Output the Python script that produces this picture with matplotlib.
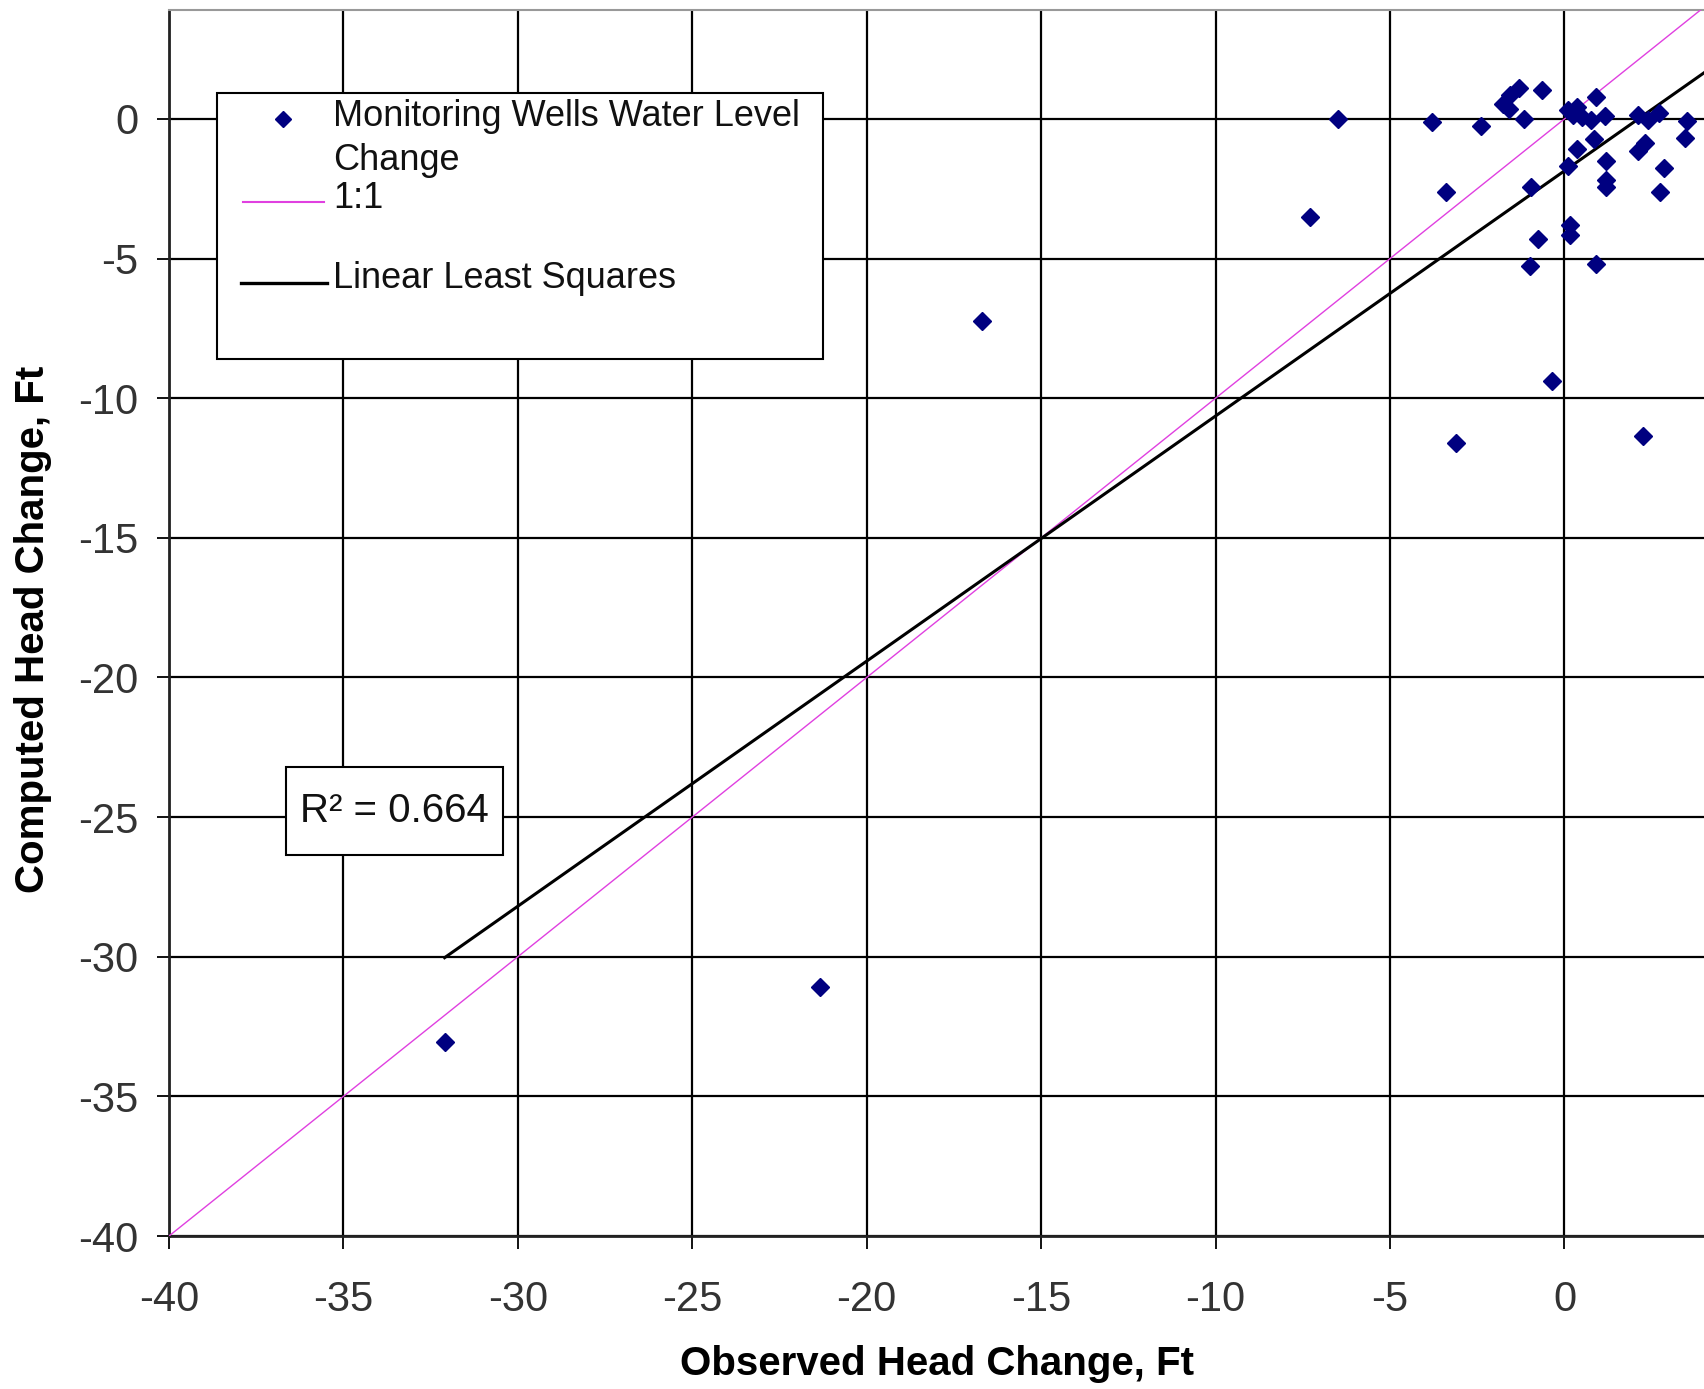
import numpy as np
import matplotlib
matplotlib.use('Agg')
import matplotlib.pyplot as plt
from matplotlib.patches import Rectangle

plt.rcParams['font.family'] = ['Liberation Sans', 'DejaVu Sans']
plt.rcParams['axes.unicode_minus'] = False

# observed vs computed head change (ft)
observed = [-32.1, -21.35, -16.7, -7.3, -6.5, -3.8, -3.4, -3.1, -2.4,
            -1.75, -1.55, -1.3, -1.6, -1.15, -1.0, -0.95, -0.75, -0.65, -0.35,
            0.1, 0.35, 0.25, 0.5, 0.75, 1.15, 0.9, 0.1, 0.35, 0.85,
            0.15, 0.15, 0.9, 1.2, 1.2, 1.2, 2.1, 2.4, 2.7, 2.1, 2.3,
            2.85, 2.75, 3.5, 3.45, 2.25]
computed = [-33.05, -31.1, -7.25, -3.5, 0.0, -0.12, -2.6, -11.6, -0.25,
            0.55, 0.85, 1.1, 0.35, -0.02, -5.25, -2.45, -4.3, 1.05, -9.4,
            0.32, 0.42, 0.15, 0.08, -0.03, 0.1, 0.8, -1.7, -1.08, -0.72,
            -3.8, -4.15, -5.2, -1.5, -2.2, -2.45, 0.15, -0.05, 0.2, -1.15, -0.85,
            -1.75, -2.6, -0.08, -0.68, -11.35]

fit_slope = 0.8777
fit_intercept = -1.86
r_squared = 0.664
ticks = np.arange(-40, 1, 5)

navy = '#000080'
W, H = 1704, 1389
fig = plt.figure(figsize=(W / 100, H / 100), dpi=100)
ax = fig.add_axes([169 / W, 1 - 1236 / H, 1535 / W, 1226 / H])
ax.set_xlim(-40, 4)
ax.set_ylim(-40, 3.9)
ax.set_xticks(ticks)
ax.set_yticks(ticks)
ax.grid(True, color='black', lw=1.6)
ax.set_axisbelow(True)

lim = np.array(ax.get_xlim())
ax.plot(lim, lim, color='#e040e0', lw=1.0, zorder=3)
xfit = np.array([min(observed), lim[1] + 0.5])
ax.plot(xfit, fit_slope * xfit + fit_intercept, color='black', lw=2.2, zorder=3)
ax.plot(observed, computed, 'D', ms=9, color=navy, mec=navy, zorder=4)

for s in ['left', 'bottom']:
    ax.spines[s].set_color('#222222')
    ax.spines[s].set_linewidth(2.0)
ax.spines['top'].set_color('#999999')
ax.spines['top'].set_linewidth(1.5)
ax.spines['right'].set_visible(False)

ax.tick_params(direction='out', length=9, width=1.3, color='black',
               labelsize=30, labelcolor='#333333')
ax.tick_params(axis='x', pad=23)
ax.tick_params(axis='y', pad=13)

ax.set_xlabel('Observed Head Change, Ft', fontsize=29, fontweight='bold', va='center')
ax.set_ylabel('Computed Head Change, Ft', fontsize=29, fontweight='bold', va='center')
ax.xaxis.set_label_coords(0.5, (1236 - 1364) / 1226)
ax.yaxis.set_label_coords((33 - 169) / 1535, 0.495)


def afrac(px, py):
    return (px - 169) / 1535, (1236 - py) / 1226


# legend box
x0, y0 = afrac(217, 359)
ax.add_patch(Rectangle((x0, y0), (823 - 217) / 1535, (359 - 93) / 1226,
                       transform=ax.transAxes, fc='white', ec='black', lw=1.5, zorder=6))
mx, my = afrac(283, 119)
ax.plot([mx], [my], 'D', ms=8, color=navy, transform=ax.transAxes, zorder=7, clip_on=False)
lx0, ly = afrac(243, 201.5)
lx1, _ = afrac(324, 201.5)
ax.plot([lx0, lx1], [ly, ly], color='#e040e0', lw=1.5, transform=ax.transAxes, zorder=7)
lx0, ly = afrac(241, 282.5)
lx1, _ = afrac(327, 282.5)
ax.plot([lx0, lx1], [ly, ly], color='black', lw=2.4, transform=ax.transAxes, zorder=7)
for label, py in [('Monitoring Wells Water Level', 116.5), ('Change', 160),
                  ('1:1', 199), ('Linear Least Squares', 278.5)]:
    tx, ty = afrac(333, py)
    ax.text(tx, ty, label, transform=ax.transAxes, fontsize=26, ha='left', va='center',
            color='#111111', zorder=8)

# R-squared box
bx, by = afrac(286, 855)
ax.add_patch(Rectangle((bx, by), 217 / 1535, 88 / 1226, transform=ax.transAxes,
                       fc='white', ec='black', lw=1.5, zorder=6))
tx, ty = afrac(394.5, 811)
ax.text(tx, ty, 'R\u00b2 = %.3f' % r_squared, transform=ax.transAxes, fontsize=29,
        ha='center', va='center', color='#111111', zorder=8)

fig.savefig('out.png', dpi=100)
